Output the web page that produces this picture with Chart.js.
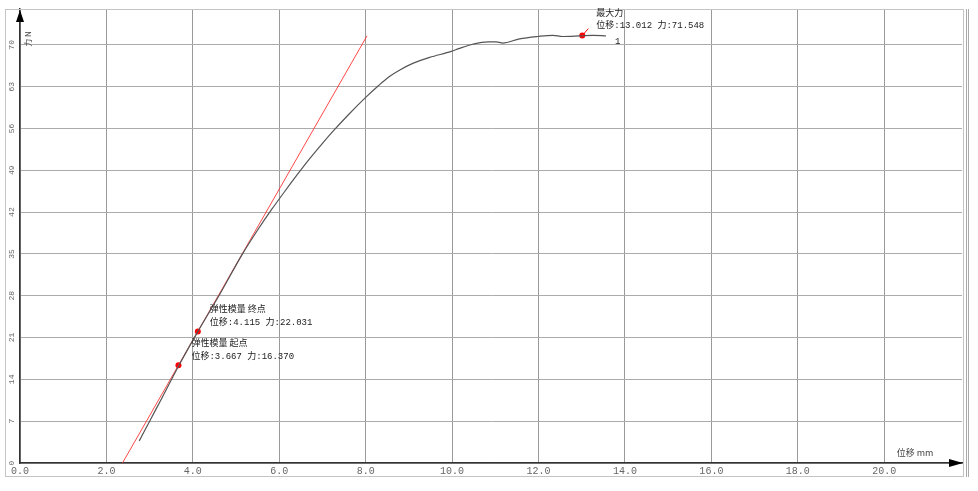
<!DOCTYPE html>
<html lang="zh">
<head>
<meta charset="UTF-8">
<title>力-位移曲线</title>
<script src="https://cdn.jsdelivr.net/npm/chart.js"></script>
<style>
  html, body { margin: 0; padding: 0; background: #fff; }
  #wrap { width: 978px; height: 491px; }
</style>
</head>
<body>
<div id="wrap"><canvas id="chart" width="978" height="491"></canvas></div>
<script>
// curve: displacement (mm) vs force (N)
const dispData  = [2.76, 3.0, 3.3, 3.667, 4.115, 4.62, 5.15, 5.5, 5.82, 6.1, 6.42, 6.7, 7.0, 7.24, 7.6, 8.0, 8.3, 8.55, 8.79, 9.09, 9.48, 9.98, 10.17, 10.48, 10.83, 11.02, 11.17, 11.56, 11.98, 12.33, 12.56, 12.95, 13.26, 13.56];
const forceData = [3.7, 7.0, 11.1, 16.2, 22.0, 28.2, 35.0, 39.0, 42.4, 45.2, 48.3, 50.9, 53.5, 55.5, 58.3, 61.2, 63.2, 64.7, 65.8, 66.9, 67.9, 68.9, 69.4, 70.1, 70.5, 70.5, 70.3, 71.0, 71.4, 71.6, 71.4, 71.5, 71.6, 71.5];

// modulus fit line
const fitDisp  = [2.372, 8.03];
const fitForce = [0, 71.5];

// marked points: modulus start, modulus end, max force
const markDisp  = [3.667, 4.115, 13.012];
const markForce = [16.370, 22.031, 71.548];
const markTitle = ['弹性模量 起点', '弹性模量 终点', '最大力'];

const xMax = 21.8, yMax = 76;
const xStep = 2, yStep = 7;

const toPts = (xs, ys) => xs.map((x, i) => ({ x: x, y: ys[i] }));

const monoFont = '"Liberation Mono", "Noto Sans CJK SC", monospace';
const cjkFont = '"Noto Sans CJK SC", "Liberation Mono", sans-serif';

const decor = {
  id: 'decor',
  afterDraw(chart) {
    const c = chart.ctx;
    const area = chart.chartArea;
    c.save();

    // outer frame
    c.strokeStyle = '#c4c4c4';
    c.lineWidth = 1;
    c.strokeRect(5.5, 9.5, 958, 467);
    c.strokeStyle = '#aaa';
    c.beginPath();
    c.moveTo(966.5, 9); c.lineTo(966.5, 477);
    c.moveTo(968.5, 9); c.lineTo(968.5, 477);
    c.stroke();

    // axis arrows
    c.fillStyle = '#000';
    c.beginPath();
    c.moveTo(area.left, area.top + 1);
    c.lineTo(area.left - 4, area.top + 13);
    c.lineTo(area.left + 4, area.top + 13);
    c.closePath(); c.fill();
    c.beginPath();
    c.moveTo(area.right + 1, area.bottom);
    c.lineTo(area.right - 13, area.bottom - 4);
    c.lineTo(area.right - 13, area.bottom + 4);
    c.closePath(); c.fill();

    // axis titles
    c.fillStyle = '#444';
    c.font = '8px ' + cjkFont;
    c.textAlign = 'center';
    c.textBaseline = 'middle';
    c.save();
    c.translate(area.left + 8, area.top + 30);
    c.rotate(-Math.PI / 2);
    c.fillText('力 N', 0, 0);
    c.restore();
    c.font = '9px ' + cjkFont;
    c.fillText('位移 mm', 915, 453);

    // annotations next to marked points
    const pts = chart.getDatasetMeta(2).data;
    c.textAlign = 'left';
    c.fillStyle = '#222';
    const offs = [[13, -23, -9], [12, -23, -9], [14, -23, -10]];
    pts.forEach((p, i) => {
      const o = offs[i];
      c.font = '9px ' + cjkFont;
      c.fillText(markTitle[i], p.x + o[0], p.y + o[1]);
      c.font = '9px ' + monoFont;
      c.fillText('位移:' + markDisp[i].toFixed(3) + ' 力:' + markForce[i].toFixed(3), p.x + o[0], p.y + o[2]);
    });
    // leader tick at max force
    const pm = pts[2];
    c.strokeStyle = '#f00';
    c.beginPath();
    c.moveTo(pm.x, pm.y);
    c.lineTo(pm.x + 6, pm.y - 7);
    c.stroke();

    // curve number at end of curve
    const cv = chart.getDatasetMeta(0).data;
    const last = cv[cv.length - 1];
    c.font = '9px ' + monoFont;
    c.fillStyle = '#222';
    c.fillText('1', last.x + 9, last.y + 6);

    c.restore();
  }
};

new Chart(document.getElementById('chart'), {
  type: 'line',
  data: {
    datasets: [
      {
        data: toPts(dispData, forceData),
        borderColor: '#555',
        borderWidth: 1.2,
        pointRadius: 0,
        cubicInterpolationMode: 'monotone'
      },
      {
        data: toPts(fitDisp, fitForce),
        borderColor: 'rgba(255, 40, 40, 0.85)',
        borderWidth: 1,
        pointRadius: 0
      },
      {
        data: toPts(markDisp, markForce),
        showLine: false,
        pointRadius: 3,
        pointBackgroundColor: '#f00',
        pointBorderColor: '#f00',
        borderWidth: 0
      }
    ]
  },
  options: {
    responsive: false,
    animation: false,
    layout: { padding: { left: 0, top: 9, right: 16, bottom: 0 } },
    plugins: { legend: { display: false }, tooltip: { enabled: false } },
    scales: {
      x: {
        type: 'linear',
        min: 0, max: xMax,
        border: { color: '#333', width: 1.5 },
        grid: { color: '#9a9a9a', lineWidth: 1, drawTicks: false },
        ticks: {
          stepSize: xStep, includeBounds: false, padding: 2,
          color: '#666', font: { family: monoFont, size: 10 },
          callback: v => v.toFixed(1)
        },
        afterFit(s) { s.height = 28; }
      },
      y: {
        min: 0, max: yMax,
        border: { color: '#333', width: 1.5 },
        grid: { color: '#ababab', lineWidth: 1, drawTicks: false },
        ticks: {
          stepSize: yStep, includeBounds: false, padding: 3,
          minRotation: 90, maxRotation: 90, crossAlign: 'center',
          color: '#666', font: { family: monoFont, size: 8 }
        },
        afterFit(s) { s.width = 20; }
      }
    }
  },
  plugins: [decor]
});
</script>
</body>
</html>
